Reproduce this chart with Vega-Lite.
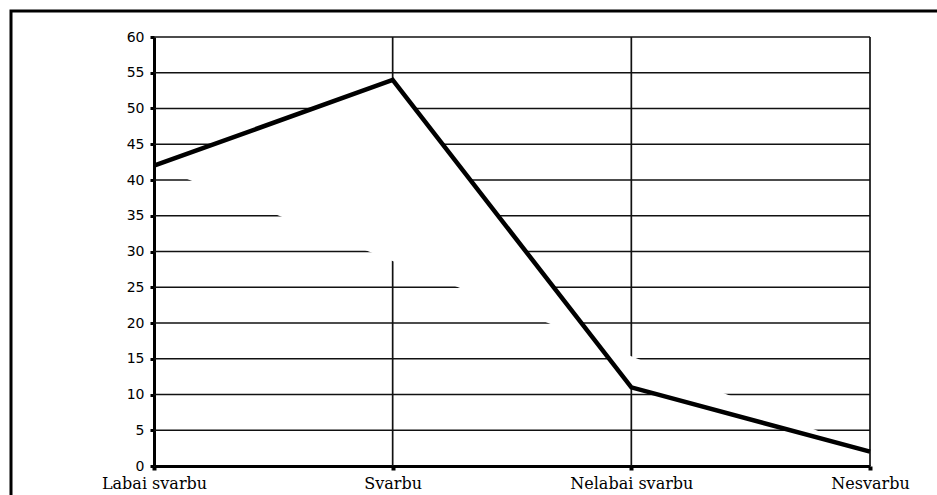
{
  "$schema": "https://vega.github.io/schema/vega-lite/v6.json",
  "autosize": {"type": "none"},
  "padding": {"left": 11, "top": 11, "right": 0, "bottom": 0},
  "width": 940,
  "height": 500,
  "background": "white",
  "config": {
    "view": {"stroke": "black", "strokeWidth": 3, "fill": null},
    "axis": {"grid": false}
  },
  "layer": [
    {
      "description": "horizontal gridlines",
      "data": {"values": [{"v": 5}, {"v": 10}, {"v": 15}, {"v": 20}, {"v": 25}, {"v": 30}, {"v": 35}, {"v": 40}, {"v": 45}, {"v": 50}, {"v": 55}, {"v": 60}]},
      "mark": {"type": "rule", "stroke": "#111", "strokeWidth": 1.3},
      "encoding": {
        "y": {"field": "v", "type": "quantitative", "title": null},
        "x": {"datum": "Labai svarbu", "type": "nominal", "title": null},
        "x2": {"datum": "Nesvarbu"}
      }
    },
    {
      "description": "vertical gridlines",
      "data": {"values": [{"c": "Svarbu"}, {"c": "Nelabai svarbu"}, {"c": "Nesvarbu"}]},
      "mark": {"type": "rule", "stroke": "#111", "strokeWidth": 1.7},
      "encoding": {
        "x": {"field": "c", "type": "nominal", "title": null},
        "y": {"datum": 0, "type": "quantitative", "title": null},
        "y2": {"datum": 60}
      }
    },
    {
      "description": "response shares, drawn as a closed white-filled path",
      "data": {"values": [
        {"atsakymas": "Labai svarbu", "proc": 42},
        {"atsakymas": "Svarbu", "proc": 54},
        {"atsakymas": "Nelabai svarbu", "proc": 11},
        {"atsakymas": "Nesvarbu", "proc": 2}
      ]},
      "mark": {"type": "line", "stroke": "black", "strokeWidth": 4.5, "fill": "white", "strokeJoin": "miter"},
      "encoding": {
        "x": {
          "field": "atsakymas",
          "type": "nominal",
          "sort": null,
          "title": null,
          "scale": {"type": "point", "domain": ["Labai svarbu", "Svarbu", "Nelabai svarbu", "Nesvarbu"], "range": [143, 859], "padding": 0},
          "axis": {
            "orient": "bottom",
            "offset": -45,
            "labelAngle": 0,
            "labelAlign": "center",
            "labelBaseline": "top",
            "labelFont": "DejaVu Serif",
            "labelFontSize": 16,
            "labelColor": "black",
            "labelPadding": 5,
            "labelOverlap": false,
            "labelBound": false,
            "labelFlush": false,
            "domainColor": "black",
            "domainWidth": 3,
            "tickColor": "black",
            "tickSize": 4,
            "tickWidth": 4
          }
        },
        "y": {
          "field": "proc",
          "type": "quantitative",
          "title": null,
          "scale": {"domain": [0, 60], "range": [455, 26], "nice": false, "zero": true},
          "axis": {
            "orient": "left",
            "offset": -143,
            "values": [0, 5, 10, 15, 20, 25, 30, 35, 40, 45, 50, 55, 60],
            "labelFont": "DejaVu Sans",
            "labelFontSize": 14,
            "labelColor": "black",
            "labelPadding": 6,
            "domainColor": "black",
            "domainWidth": 3,
            "tickColor": "black",
            "tickSize": 4,
            "tickWidth": 3
          }
        }
      }
    }
  ]
}
